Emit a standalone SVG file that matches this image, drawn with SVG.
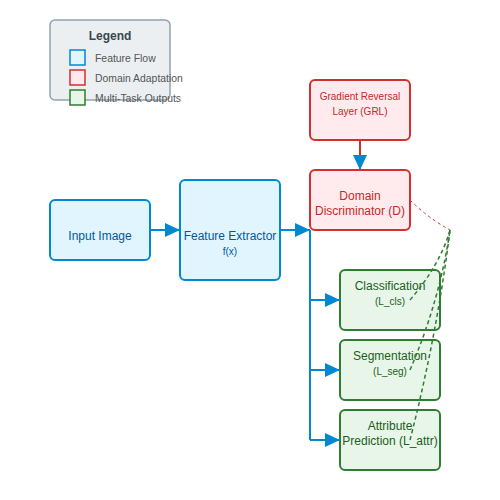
<svg xmlns="http://www.w3.org/2000/svg" width="500" height="500" viewBox="0 0 500 500">
<defs>
<marker id="arr" markerWidth="15" markerHeight="14" refX="10" refY="5" orient="auto" markerUnits="userSpaceOnUse" viewBox="0 0 10 10" preserveAspectRatio="none">
<path d="M0,0 L10,5 L0,10 Z" fill="#0288d1"/>
</marker>
<style>
text{font-family:"Liberation Sans",Arial,sans-serif;text-anchor:middle}
.blue rect{fill:#e1f5fe;stroke:#0288d1;stroke-width:2}
.red rect{fill:#ffebee;stroke:#d32f2f;stroke-width:2}
.green rect{fill:#e8f5e9;stroke:#2e7d32;stroke-width:2}
.blue text{fill:#01579b}
.red text{fill:#c62828}
.green text{fill:#1b5e20}
.l{font-size:12px}
.s{font-size:10px}
.flow{stroke:#0288d1;stroke-width:2;fill:none}
.dg{stroke:#2e7d32;stroke-width:1.5;stroke-dasharray:4,3;fill:none}
.dr{stroke:#d32f2f;stroke-width:1;stroke-dasharray:3,3;fill:none}
.lt{font-size:10.4px;fill:#555;text-anchor:start}
</style>
</defs>
<g id="legend">
<rect x="50" y="20" width="120" height="80" rx="5" fill="#eceff1" stroke="#90a4ae" stroke-width="1.5"/>
<text x="110" y="40" font-size="12" font-weight="bold" fill="#37474f">Legend</text>
<rect x="70" y="50" width="15" height="15" fill="#e1f5fe" stroke="#0288d1" stroke-width="1.5"/>
<text x="95" y="62" class="lt">Feature Flow</text>
<rect x="70" y="70" width="15" height="15" fill="#ffebee" stroke="#d32f2f" stroke-width="1.5"/>
<text x="95" y="82" class="lt">Domain Adaptation</text>
<rect x="70" y="90" width="15" height="15" fill="#e8f5e9" stroke="#2e7d32" stroke-width="1.5"/>
<text x="95" y="102" class="lt">Multi-Task Outputs</text>
</g>
<g id="input" class="blue">
<rect x="50" y="200" width="100" height="60" rx="5"/>
<text x="100" y="240" class="l">Input Image</text>
</g>
<g id="extractor" class="blue">
<rect x="180" y="180" width="100" height="100" rx="5"/>
<text x="230" y="240" class="l">Feature Extractor</text>
<text x="230" y="255" class="s">f(x)</text>
</g>
<g id="grl" class="red">
<rect x="310" y="80" width="100" height="60" rx="5"/>
<text x="360" y="100" class="s">Gradient Reversal</text>
<text x="360" y="115" class="s">Layer (GRL)</text>
</g>
<g id="discriminator" class="red">
<rect x="310" y="170" width="100" height="60" rx="5"/>
<text x="360" y="200" class="l">Domain</text>
<text x="360" y="215" class="l">Discriminator (D)</text>
</g>
<g id="classification" class="green">
<rect x="340" y="270" width="100" height="60" rx="5"/>
<text x="390" y="290" class="l">Classification</text>
<text x="390" y="305" class="s">(L_cls)</text>
</g>
<g id="segmentation" class="green">
<rect x="340" y="340" width="100" height="60" rx="5"/>
<text x="390" y="360" class="l">Segmentation</text>
<text x="390" y="375" class="s">(L_seg)</text>
</g>
<g id="attribute" class="green">
<rect x="340" y="410" width="100" height="60" rx="5"/>
<text x="390" y="430" class="l">Attribute</text>
<text x="390" y="445" class="l">Prediction (L_attr)</text>
</g>
<g id="connectors">
<line x1="150" y1="230" x2="180" y2="230" class="flow" marker-end="url(#arr)"/>
<line x1="280" y1="230" x2="310" y2="230" class="flow" marker-end="url(#arr)"/>
<line x1="360" y1="140" x2="360" y2="170" stroke="#d32f2f" stroke-width="2" marker-end="url(#arr)"/>
<path d="M310,230 L310,440" class="flow"/>
<line x1="310" y1="300" x2="340" y2="300" class="flow" marker-end="url(#arr)"/>
<line x1="310" y1="370" x2="340" y2="370" class="flow" marker-end="url(#arr)"/>
<line x1="310" y1="440" x2="340" y2="440" class="flow" marker-end="url(#arr)"/>
<path d="M410,200 Q428,218 450,230" class="dr"/>
<path d="M410,300 Q440,265 450,230" class="dg"/>
<path d="M410,370 Q440,300 450,230" class="dg"/>
<path d="M410,440 Q437,335 450,230" class="dg"/>
</g>
</svg>
